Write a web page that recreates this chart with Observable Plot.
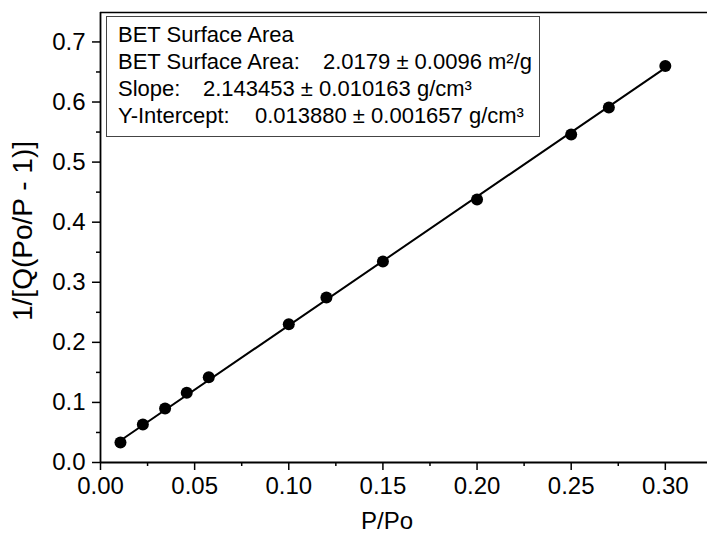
<!DOCTYPE html>
<html>
<head>
<meta charset="utf-8">
<script src="https://cdn.jsdelivr.net/npm/d3@7"></script>
<script src="https://cdn.jsdelivr.net/npm/@observablehq/plot@0.6"></script>
<style>
  body { margin: 0; background: #fff; }
  #wrap { position: relative; width: 707px; height: 541px; font-family: "Liberation Sans", Arial, sans-serif; }
  #legend {
    position: absolute; left: 106px; top: 16px; width: 432px; height: 115px;
    border: 1px solid #444; background: #fff; box-sizing: content-box;
    font-size: 22px; color: #000; line-height: 27px; padding-top: 4px;
  }
  .row { position: relative; height: 27px; padding-left: 11px; white-space: nowrap; }
  .val { position: absolute; top: 0; }
  .title { position: absolute; color: #000; white-space: nowrap; line-height: 1; }
</style>
</head>
<body>
<div id="wrap"></div>
<script>
// Data
const xValues = [0.0106, 0.0225, 0.0343, 0.0458, 0.0575, 0.100, 0.120, 0.150, 0.200, 0.250, 0.270, 0.300];
const yValues = [0.0333, 0.0633, 0.0899, 0.116, 0.142, 0.230, 0.2747, 0.3346, 0.4378, 0.546, 0.591, 0.660];

// Linear fit reported in the legend
const fitSlope = 2.143453;
const fitIntercept = 0.013880;

const xMajorTicks = [0, 0.05, 0.10, 0.15, 0.20, 0.25, 0.30];
const xMinorTicks = [0.025, 0.075, 0.125, 0.175, 0.225, 0.275];
const yMajorTicks = [0, 0.1, 0.2, 0.3, 0.4, 0.5, 0.6, 0.7];
const yMinorTicks = [0.05, 0.15, 0.25, 0.35, 0.45, 0.55, 0.65];

const xTitle = "P/Po";
const yTitle = "1/[Q(Po/P - 1)]";
const legendTitle = "BET Surface Area";
const legendLabels = ["BET Surface Area:", "Slope:", "Y-Intercept:"];
const legendValues = ["2.0179 ± 0.0096 m²/g", "2.143453 ± 0.010163 g/cm³", "0.013880 ± 0.001657 g/cm³"];

const points = xValues.map((x, i) => ({x, y: yValues[i]}));
const fitX = [xValues[0], xValues[xValues.length - 1]];
const fitLine = fitX.map(x => ({x, y: fitIntercept + fitSlope * x}));

const xMax = 0.3224, yMax = 0.749;

const chart = Plot.plot({
  width: 707,
  height: 541,
  marginLeft: 100,
  marginRight: 0,
  marginTop: 12,
  marginBottom: 79,
  style: {fontFamily: "'Liberation Sans', Arial, sans-serif", fontSize: "24px", color: "#000", background: "#fff"},
  x: {domain: [0, xMax]},
  y: {domain: [0, yMax]},
  marks: [
    Plot.axisX({ticks: xMinorTicks, tickSize: 4, text: null, label: null, strokeWidth: 1.5}),
    Plot.axisX({ticks: xMajorTicks, tickSize: 8, tickPadding: 6, strokeWidth: 1.5,
      tickFormat: d3.format(".2f"), fontSize: 24, label: null}),
    Plot.axisY({ticks: yMinorTicks, tickSize: 4, text: null, label: null, strokeWidth: 1.5}),
    Plot.axisY({ticks: yMajorTicks, tickSize: 8, tickPadding: 7, strokeWidth: 1.5,
      tickFormat: d3.format(".1f"), fontSize: 24, label: null}),
    Plot.ruleX([0], {strokeWidth: 1.8}),
    Plot.ruleY([0], {strokeWidth: 1.8}),
    Plot.ruleY([yMax], {strokeWidth: 1.5}),
    Plot.line(fitLine, {x: "x", y: "y", stroke: "#000", strokeWidth: 2}),
    Plot.dot(points, {x: "x", y: "y", r: 6, fill: "#000", stroke: "none"})
  ]
});

const wrap = document.getElementById("wrap");
wrap.appendChild(chart);

// Axis titles
const xt = document.createElement("div");
xt.className = "title";
xt.textContent = xTitle;
xt.style.fontSize = "24px";
xt.style.left = "387px"; xt.style.top = "509px";
xt.style.transform = "translateX(-50%)";
wrap.appendChild(xt);

const yt = document.createElement("div");
yt.className = "title";
yt.textContent = yTitle;
yt.style.fontSize = "28px";
yt.style.left = "23px"; yt.style.top = "231px";
yt.style.transform = "translate(-50%, -50%) rotate(-90deg)";
wrap.appendChild(yt);

// Legend box
const legend = document.createElement("div");
legend.id = "legend";
const valueLeft = [216, 96, 148];
let html = `<div class="row">${legendTitle}</div>`;
legendLabels.forEach((lab, i) => {
  html += `<div class="row">${lab}<span class="val" style="left:${valueLeft[i]}px">${legendValues[i]}</span></div>`;
});
legend.innerHTML = html;
wrap.appendChild(legend);
</script>
</body>
</html>
